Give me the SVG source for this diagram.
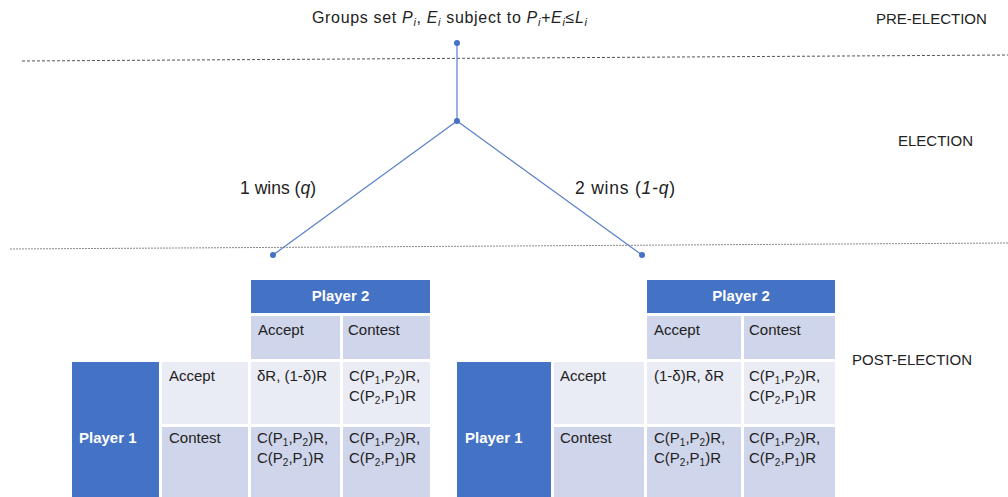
<svg xmlns="http://www.w3.org/2000/svg" width="1008" height="497" viewBox="0 0 1008 497">
<style>
text{font-family:"Liberation Sans",Arial,sans-serif;font-size:15px;fill:#222}
.w{fill:#fff;font-weight:bold}
.hd{fill:#4472C4}
.lt{fill:#CFD5EA}
.xl{fill:#E9EBF5}
.conn{stroke:#5B7FC7;stroke-width:1.2;fill:none}
.dot{fill:#4472C4}
.sub{font-size:10px}
.el{font-size:17.5px}
.top{font-size:16px}
.tsub{font-size:11px;font-style:italic}
</style>
<rect width="1008" height="497" fill="#fff"/>
<g id="stage-lines">
<line x1="22" y1="61" x2="1008" y2="55" stroke="#555" stroke-width="1" stroke-dasharray="3,2"/>
<line x1="10" y1="249" x2="1008" y2="243" stroke="#888" stroke-width="1" stroke-dasharray="2,1"/>
</g>
<g id="stage-labels">
<text x="876" y="24">PRE-ELECTION</text>
<text x="898" y="146">ELECTION</text>
<text x="852" y="365">POST-ELECTION</text>
</g>
<g id="root-label">
<text class="top" x="312" y="23" textLength="275" lengthAdjust="spacing">Groups set <tspan font-style="italic">P</tspan><tspan class="tsub" dy="3">i</tspan><tspan dy="-3">, </tspan><tspan font-style="italic">E</tspan><tspan class="tsub" dy="3">i</tspan><tspan dy="-3"> subject to </tspan><tspan font-style="italic">P</tspan><tspan class="tsub" dy="3">i</tspan><tspan dy="-3" font-style="italic">+E</tspan><tspan class="tsub" dy="3">i</tspan><tspan dy="-3">≤</tspan><tspan font-style="italic">L</tspan><tspan class="tsub" dy="3">i</tspan></text>
</g>
<g id="connectors">
<line class="conn" x1="457" y1="43" x2="457" y2="121"/>
<line class="conn" x1="457" y1="121" x2="273" y2="255"/>
<line class="conn" x1="457" y1="121" x2="642" y2="255"/>
</g>
<g id="node-root"><circle class="dot" cx="457" cy="43" r="3"/></g>
<g id="node-election"><circle class="dot" cx="457" cy="121" r="3"/></g>
<g id="node-left"><circle class="dot" cx="273" cy="255" r="3"/></g>
<g id="node-right"><circle class="dot" cx="642" cy="255" r="3"/></g>
<g id="edge-labels">
<text class="el" x="240" y="194" textLength="76" lengthAdjust="spacing">1 wins (<tspan font-style="italic">q</tspan>)</text>
<text class="el" x="575" y="194" textLength="100" lengthAdjust="spacing">2 wins (<tspan font-style="italic">1-q</tspan>)</text>
</g>
<g id="table-left">
<rect class="hd" x="251" y="280" width="179" height="33"/>
<text class="w" x="340.5" y="301" text-anchor="middle">Player 2</text>
<rect class="lt" x="251" y="316" width="89" height="43"/>
<rect class="lt" x="343" y="316" width="87" height="43"/>
<text x="258" y="335">Accept</text>
<text x="348" y="335">Contest</text>
<rect class="hd" x="72" y="362" width="87" height="135"/>
<text class="w" x="79" y="443">Player 1</text>
<rect class="xl" x="162" y="362" width="86" height="62"/>
<rect class="xl" x="251" y="362" width="89" height="62"/>
<rect class="xl" x="343" y="362" width="87" height="62"/>
<rect class="lt" x="162" y="427" width="86" height="70"/>
<rect class="lt" x="251" y="427" width="89" height="70"/>
<rect class="lt" x="343" y="427" width="87" height="70"/>
<text x="169" y="381">Accept</text>
<text x="169" y="443">Contest</text>
<text x="257" y="381">δR, (1-δ)R</text>
<text x="349" y="381">C(P<tspan class="sub" dy="3">1</tspan><tspan dy="-3">,P</tspan><tspan class="sub" dy="3">2</tspan><tspan dy="-3">)R,</tspan></text>
<text x="349" y="401">C(P<tspan class="sub" dy="3">2</tspan><tspan dy="-3">,P</tspan><tspan class="sub" dy="3">1</tspan><tspan dy="-3">)R</tspan></text>
<text x="257" y="443">C(P<tspan class="sub" dy="3">1</tspan><tspan dy="-3">,P</tspan><tspan class="sub" dy="3">2</tspan><tspan dy="-3">)R,</tspan></text>
<text x="257" y="463">C(P<tspan class="sub" dy="3">2</tspan><tspan dy="-3">,P</tspan><tspan class="sub" dy="3">1</tspan><tspan dy="-3">)R</tspan></text>
<text x="349" y="443">C(P<tspan class="sub" dy="3">1</tspan><tspan dy="-3">,P</tspan><tspan class="sub" dy="3">2</tspan><tspan dy="-3">)R,</tspan></text>
<text x="349" y="463">C(P<tspan class="sub" dy="3">2</tspan><tspan dy="-3">,P</tspan><tspan class="sub" dy="3">1</tspan><tspan dy="-3">)R</tspan></text>
</g>
<g id="table-right">
<rect class="hd" x="647" y="280" width="188" height="33"/>
<text class="w" x="741" y="301" text-anchor="middle">Player 2</text>
<rect class="lt" x="647" y="316" width="94" height="43"/>
<rect class="lt" x="744" y="316" width="91" height="43"/>
<text x="654" y="335">Accept</text>
<text x="749" y="335">Contest</text>
<rect class="hd" x="457" y="362" width="94" height="135"/>
<text class="w" x="465" y="443">Player 1</text>
<rect class="xl" x="554" y="362" width="90" height="62"/>
<rect class="xl" x="647" y="362" width="94" height="62"/>
<rect class="xl" x="744" y="362" width="91" height="62"/>
<rect class="lt" x="554" y="427" width="90" height="70"/>
<rect class="lt" x="647" y="427" width="94" height="70"/>
<rect class="lt" x="744" y="427" width="91" height="70"/>
<text x="560" y="381">Accept</text>
<text x="560" y="443">Contest</text>
<text x="654" y="381">(1-δ)R, δR</text>
<text x="749" y="381">C(P<tspan class="sub" dy="3">1</tspan><tspan dy="-3">,P</tspan><tspan class="sub" dy="3">2</tspan><tspan dy="-3">)R,</tspan></text>
<text x="749" y="401">C(P<tspan class="sub" dy="3">2</tspan><tspan dy="-3">,P</tspan><tspan class="sub" dy="3">1</tspan><tspan dy="-3">)R</tspan></text>
<text x="654" y="443">C(P<tspan class="sub" dy="3">1</tspan><tspan dy="-3">,P</tspan><tspan class="sub" dy="3">2</tspan><tspan dy="-3">)R,</tspan></text>
<text x="654" y="463">C(P<tspan class="sub" dy="3">2</tspan><tspan dy="-3">,P</tspan><tspan class="sub" dy="3">1</tspan><tspan dy="-3">)R</tspan></text>
<text x="749" y="443">C(P<tspan class="sub" dy="3">1</tspan><tspan dy="-3">,P</tspan><tspan class="sub" dy="3">2</tspan><tspan dy="-3">)R,</tspan></text>
<text x="749" y="463">C(P<tspan class="sub" dy="3">2</tspan><tspan dy="-3">,P</tspan><tspan class="sub" dy="3">1</tspan><tspan dy="-3">)R</tspan></text>
</g>
</svg>
